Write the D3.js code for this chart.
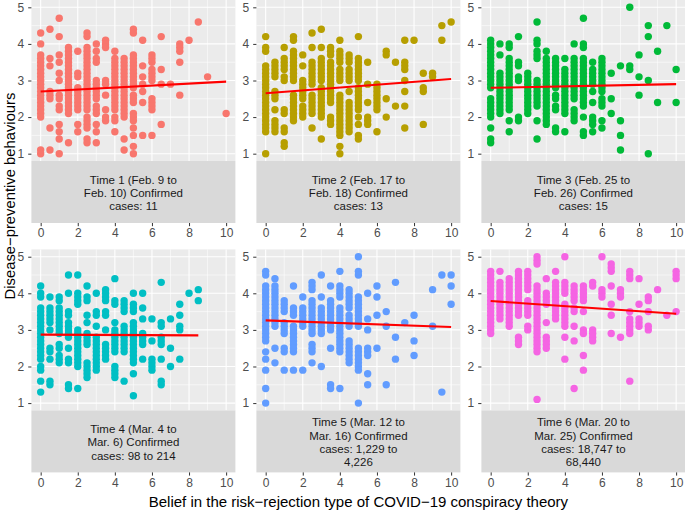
<!DOCTYPE html>
<html><head><meta charset="utf-8">
<script src="https://cdn.jsdelivr.net/npm/d3@7"></script>
<style>
html,body{margin:0;padding:0;background:#fff;}
svg{display:block;font-family:"Liberation Sans",Arial,Helvetica,sans-serif;}
</style></head>
<body><svg id="chart" width="685" height="510"></svg>
<script>
// ---------- data (x = belief score, y list = behaviour scores at that x) ----------
const time1 = [
 [0,[4.3,4.0,3.7,3.6,3.5,3.4,3.3,3.2,3.1,3.0,2.9,2.8,2.7,2.6,2.5,2.4,2.3,2.2,2.1,2.0,1.1,1.0]],
 [0.5,[4.4,3.6,3.4,2.7,2.6,2.5,1.7,1.1]],
 [1,[4.7,4.2,3.7,3.5,3.2,3.0,2.6,2.5,2.3,2.2,1.8,1.6,1.4,1.0]],
 [1.5,[3.9,3.8,3.7,3.6,3.5,3.4,3.3,3.2,3.1,3.0,2.9,2.8,2.7,2.6,2.5,2.4,2.3,2.2,2.1,1.3]],
 [2,[3.8,3.2,3.1,2.8,2.7,2.6,2.5,2.4,2.3,2.2,1.8,1.6]],
 [2.5,[4.3,4.2,3.9,3.8,3.7,3.6,3.5,3.4,3.3,3.2,3.1,3.0,2.9,2.8,2.7,2.6,2.5,2.4,2.3,2.2,2.0,1.9,1.8,1.7,1.4,1.3]],
 [3,[4.0,3.8,3.6,3.5,3.0,2.9,2.8,2.7,2.6,2.5,2.3,2.2,2.1,1.8,1.6,1.3]],
 [3.5,[4.1,4.0,3.9,3.0,2.9,2.6,2.2,2.0,1.9]],
 [4,[3.8,3.6,3.5,3.4,3.3,3.2,3.1,3.0,2.9,2.8,2.7,2.6,2.5,2.4,2.3,2.2,2.0,1.9,1.6]],
 [4.5,[3.6,3.5,3.4,3.3,3.2,3.1,3.0,2.9,2.8,2.7,2.6,2.5,2.4,2.3,2.2,2.1,2.0,1.4,1.1]],
 [5,[4.4,4.3,3.7,3.6,3.5,3.4,3.3,3.2,3.1,3.0,2.9,2.8,2.6,2.5,2.4,2.1,2.0,1.9,1.7,1.5,1.2,1.0]],
 [5.5,[4.1,3.4,3.1,2.9,2.7,2.4,1.5]],
 [6,[3.7,3.6,3.5,3.3,3.2,3.1,3.0,2.5,2.4,2.3,2.2,1.5]],
 [6.5,[4.2,3.3,2.9,1.8]],
 [7,[2.9]],
 [7.5,[4.0,3.9,3.8,3.5,2.6]],
 [8,[4.1]],
 [8.5,[4.6]],
 [9,[3.1]],
 [10,[2.1]]
];
const time2 = [
 [0,[4.2,3.9,3.8,3.4,3.3,3.2,3.1,3.0,2.9,2.8,2.7,2.6,2.5,2.4,2.3,2.2,2.1,2.0,1.9,1.8,1.7,1.6,1.0]],
 [0.5,[3.5,3.4,3.3,3.2,3.1,2.7,2.6,2.5,2.2,1.9,1.8,1.7,1.6]],
 [1,[3.9,3.6,3.5,3.4,3.3,3.1,3.0,2.2,2.1,1.7,1.6,1.3,1.2]],
 [1.5,[4.2,4.1,3.8,3.7,3.6,3.5,3.4,3.3,3.2,3.1,3.0,2.6,2.5,2.4,2.3,2.2,2.1,2.0,1.9]],
 [2,[3.7,3.4,3.0,2.9,2.8,2.7,2.6,2.5,2.3,2.2,2.1,2.0]],
 [2.5,[4.3,3.9,3.5,3.4,3.3,3.2,3.1,3.0,2.9,2.6,2.5,2.4,2.3,2.2,2.1,1.7]],
 [3,[4.4,3.9,3.6,3.5,3.4,3.3,3.2,3.1,3.0,2.8,2.7,2.6,2.5,2.4,2.3,2.2,2.1,2.0,1.4]],
 [3.5,[3.9,3.8,3.7,3.5,3.4,3.3,3.2,3.1,3.0,2.9,2.8,2.7,2.6,2.5,2.4,2.0,1.9,1.8]],
 [4,[4.1,3.8,3.7,3.6,3.5,3.3,3.2,3.1,3.0,2.6,2.5,2.4,2.3,2.2,2.1,2.0,1.9,1.8,1.7,1.6,1.5,1.2,1.0]],
 [4.5,[3.7,3.6,3.5,3.3,3.2,3.1,3.0,2.7,2.4,2.3,2.2,2.1,2.0,1.9,1.8,1.7,1.6]],
 [5,[4.2,3.6,3.5,3.4,3.3,3.2,3.1,3.0,2.8,2.7,2.6,2.5,2.4,2.3,2.2,2.0,1.8,1.5,1.4]],
 [5.5,[3.5,2.9,2.4,2.0,1.9,1.8]],
 [6,[2.9,2.8,2.7,2.6,2.5,2.4,2.3,2.2,1.6]],
 [6.5,[3.8,3.7,2.5,2.0]],
 [7,[3.5,2.3]],
 [7.5,[4.1,3.5,3.4,3.3,3.0,2.7,2.3,1.7]],
 [8,[4.1]],
 [8.5,[3.2,2.8,2.7,1.8]],
 [9,[3.2,3.1]],
 [9.5,[4.5,4.1]],
 [10,[4.6]]
];
const time3 = [
 [0,[4.1,4.0,3.9,3.8,3.7,3.6,3.5,3.4,3.3,3.2,3.1,3.0,2.9,2.8,2.5,2.4,2.3,2.2,2.1,2.0,1.7,1.4,1.3]],
 [0.5,[4.0,3.7,3.2,3.1,3.0,2.9,2.8,2.7,2.6,2.5,2.4,2.3,2.2,2.1]],
 [1,[4.0,3.9,3.6,3.5,3.4,3.3,3.2,3.1,3.0,2.9,2.8,2.7,2.6,2.5,2.4,2.3,2.2,1.9,1.6]],
 [1.5,[4.2,3.5,3.4,3.1,3.0,2.0,1.9]],
 [2,[3.2,3.1,3.0,2.9,2.8,2.7,2.6,2.5,2.4,2.3,2.2,2.1]],
 [2.5,[4.6,4.1,4.0,3.8,3.7,3.6,3.0,2.9,2.8,2.7,2.6,2.5,2.4,2.3,1.9,1.4]],
 [3,[3.8,3.6,3.5,3.4,3.3,3.2,3.1,3.0,2.9,2.8,2.7,2.6,2.5,2.4,2.3,2.2,2.1,2.0,1.9,1.8]],
 [3.5,[3.6,3.5,3.4,3.3,3.2,3.1,3.0,2.9,2.8,2.6,2.5,2.3,2.2,1.7,1.6]],
 [4,[3.6,3.3,3.2,3.1,3.0,2.9,2.8,2.7,2.6,2.5,2.4,2.3,2.2,2.1,1.6]],
 [4.5,[4.0,3.6,3.5,3.4,3.3,3.2,3.1,3.0,2.9,2.8,2.7,2.6,2.5,2.2,2.1,2.0,1.9]],
 [5,[4.7,4.0,3.9,3.6,3.5,3.4,3.3,3.2,3.1,3.0,2.9,2.8,2.7,2.6,2.5,2.4,2.3,2.0,1.6,1.5]],
 [5.5,[3.5,3.3,3.2,3.1,3.0,2.9,2.7,2.4,2.0,1.9,1.8,1.6]],
 [6,[3.6,3.5,3.4,3.3,3.2,3.1,3.0,2.9,2.8,2.7,2.5,2.4,2.3,1.9,1.7]],
 [6.5,[3.2,2.5,2.1]],
 [7,[3.4,1.9,1.5,1.1]],
 [7.5,[5.0,3.4,3.3]],
 [8,[3.7,3.1,2.6]],
 [8.5,[4.5,4.2,3.0,1.0]],
 [9,[3.8,2.4]],
 [9.5,[4.5]],
 [10,[3.3,2.4]]
];
const time4 = [
 [0,[4.2,4.0,3.9,3.6,3.5,3.4,3.3,3.2,3.1,3.0,2.9,2.8,2.7,2.6,2.5,2.4,2.3,2.2,2.0,1.9,1.6,1.3]],
 [0.5,[3.9,3.6,3.5,3.4,3.3,3.2,3.0,2.5,2.4,2.2,1.6,1.5]],
 [1,[3.9,3.8,3.6,3.5,3.4,3.3,3.2,3.1,3.0,2.9,2.6,2.5,2.3,2.2,2.1]],
 [1.5,[4.5,4.0,3.5,3.4,3.2,3.1,3.0,2.9,2.8,2.5,2.2,2.1,1.5,1.4]],
 [2,[4.5,4.0,3.9,3.8,3.7,3.0,2.9,2.8,2.7,2.6,2.5,2.4,2.3,2.2,2.1,2.0,1.4]],
 [2.5,[4.2,3.9,3.8,3.4,3.2,2.9,2.8,2.7,2.6,2.1,2.0,1.9,1.8,1.7]],
 [3,[4.0,3.5,3.4,3.1,2.8,2.7,2.6,2.5,2.4,2.3,2.2,2.1,2.0,1.9]],
 [3.5,[4.1,4.0,3.9,3.8,3.5,3.4,3.0,2.6,2.5,2.4,2.3,2.2]],
 [4,[4.4,3.8,3.7,3.2,3.0,2.9,2.8,2.7,2.6,2.5,2.4,2.0,1.9,1.8,1.7]],
 [4.5,[3.8,3.7,3.6,3.5,3.1,3.0,2.9,2.8,2.7,2.6,2.5,2.4,1.6]],
 [5,[4.0,3.7,3.6,3.5,3.2,3.1,3.0,2.9,2.8,2.7,2.6,2.5,2.4,2.3,2.2,2.1,1.8,1.2]],
 [5.5,[4.0,3.6,3.3,2.9,2.8,2.7,2.6,2.2]],
 [6,[3.3,2.7,2.2,2.1,2.0,1.9]],
 [6.5,[4.3,3.2,3.1,2.8,2.7,2.6,2.2,1.6,1.5]],
 [7,[3.3,2.5,2.0]],
 [7.5,[3.7,3.4,3.1,3.0,2.2]],
 [8,[4.0]],
 [8.5,[4.1,3.8]]
];
const time5 = [
 [0,[4.6,4.5,4.2,4.1,4.0,3.9,3.8,3.7,3.6,3.5,3.4,3.3,3.2,3.1,3.0,2.9,2.8,2.7,2.4,2.2,1.9,1.4,1.0]],
 [0.5,[4.4,4.2,4.1,4.0,3.9,3.8,3.7,3.6,3.5,3.4,3.3,3.2,3.1,2.5,2.1]],
 [1,[3.8,3.7,3.6,3.5,3.2,3.1,3.0,2.9,2.5,2.4,1.9]],
 [1.5,[4.2,3.6,3.5,3.4,3.1,3.0,2.9,2.8,2.7,2.6,2.5,2.4,1.9]],
 [2,[3.9,3.6,3.5,3.4,3.3,3.2,3.1,1.9]],
 [2.5,[4.3,4.2,4.1,3.8,3.7,3.6,3.5,3.4,3.3,3.2,3.1,3.0,2.9,2.6,2.5,2.4,2.1]],
 [3,[4.5,3.9,3.6,3.5,3.4,3.3,3.2,3.1,3.0,2.9,2.0]],
 [3.5,[4.2,3.8,3.7,3.6,3.5,3.4,3.3,3.2,3.1,3.0,2.5,1.5,1.4]],
 [4,[4.6,4.2,4.1,4.0,3.9,3.6,3.5,3.4,3.3,3.2,3.1,3.0,2.9,2.8,2.7,2.6,2.5,2.4,1.4]],
 [4.5,[4.1,4.0,3.9,3.8,3.7,3.6,3.4,3.3,3.2,3.1,2.7,2.6,2.5,2.4,2.3,2.2,2.1]],
 [5,[5.0,4.6,4.5,3.9,3.8,3.7,3.6,3.5,3.4,3.3,3.2,3.1,2.5,2.4,2.3,2.2,2.1,2.0,1.9,1.0]],
 [5.5,[4.0,3.3,3.0,2.5,2.4,2.3,1.8,1.5]],
 [6,[4.2,3.9,3.4,2.5]],
 [6.5,[3.5,3.1,1.5]],
 [7,[4.3,2.8,2.2]],
 [7.5,[3.2]],
 [8,[3.4,2.7,2.3]],
 [9,[4.1,3.1]],
 [9.5,[4.5,1.3]],
 [10,[4.5,4.2,3.7]]
];
const time6 = [
 [0,[4.6,4.5,4.4,4.3,4.2,4.1,4.0,3.9,3.8,3.7,3.6,3.5,3.4,3.3,3.2,3.1,3.0,2.9]],
 [0.5,[4.6,4.3,4.2,4.1,4.0,3.9,3.8,3.7,3.6,3.5,3.4,3.3]],
 [1,[4.4,4.3,4.2,4.1,4.0,3.9,3.8,3.7,3.6,3.5,3.4,3.3,3.2,3.1]],
 [1.5,[4.6,4.5,4.4,4.3,4.2,4.1,4.0,3.9,3.8,3.7,3.6,3.5,3.4,2.8,2.7,2.6]],
 [2,[4.6,4.5,4.4,4.3,4.2,4.1,3.8,3.7,3.6,3.5,3.4,3.1,3.0]],
 [2.5,[5.0,4.9,4.8,4.2,4.1,4.0,3.9,3.8,3.7,3.6,3.5,3.4,3.3,3.2,3.1,3.0,2.9,2.8,2.7,2.6,2.5,2.4,1.1]],
 [3,[4.4,4.0,3.9,3.8,3.7,3.2,2.8,2.7,2.6,2.5]],
 [3.5,[4.6,4.3,4.2,4.1,4.0,3.9,3.8,3.7,3.6,3.5,3.4,3.3]],
 [4,[5.0,4.3,4.2,4.1,4.0,3.7,3.6,3.5,3.4,3.3,3.2,3.1,2.8,2.2]],
 [4.5,[4.2,4.1,4.0,3.9,3.8,3.6,3.5,3.1,2.7,1.4]],
 [5,[4.2,4.1,4.0,3.9,3.8,3.5,3.0,2.9,2.3,1.9]],
 [5.5,[4.3,4.2,3.0,2.9,2.8,2.7]],
 [6,[5.0,4.1,4.0,3.9]],
 [6.5,[4.8,4.7,4.6,4.2,3.7,3.4,2.9]],
 [7,[4.1,4.0,3.9,2.8]],
 [7.5,[4.6,4.5,4.4,3.5,3.3,3.2,3.1,3.0,2.9,1.6]],
 [8,[4.4,3.7,3.3,3.2,3.1]],
 [8.5,[3.9,3.8,3.5,3.1,3.0]],
 [9,[4.1]],
 [9.5,[3.4]],
 [10,[4.6,4.5,4.4,3.5]]
];
const panelData = [time1, time2, time3, time4, time5, time6];
// fitted line values at the smallest and largest x of each panel
const fitStart = [2.70, 2.65, 2.80, 2.87, 3.26, 3.79];
const fitEnd   = [2.97, 3.04, 2.90, 2.85, 3.08, 3.44];
const stripLabels = [
 ["Time 1 (Feb. 9 to","Feb. 10) Confirmed","cases: 11"],
 ["Time 2 (Feb. 17 to","Feb. 18) Confirmed","cases: 13"],
 ["Time 3 (Feb. 25 to","Feb. 26) Confirmed","cases: 15"],
 ["Time 4 (Mar. 4 to","Mar. 6) Confirmed","cases: 98 to 214"],
 ["Time 5 (Mar. 12 to","Mar. 16) Confirmed","cases: 1,229 to","4,226"],
 ["Time 6 (Mar. 20 to","Mar. 25) Confirmed","cases: 18,747 to","68,440"]
];
const xTicks = [0,2,4,6,8,10];
const xMinor = [1,3,5,7,9];
const yTicks = [1,2,3,4,5];
const yMinor = [1.5,2.5,3.5,4.5];
const colors = ["#F8766D","#B79F00","#00BA38","#00BFC4","#619CFF","#F564E3"];
const xTitle = "Belief in the risk\u2212rejection type of COVID\u221219 conspiracy theory";
const yTitle = "Disease\u2212preventive behaviours";

// ---------- layout ----------
const panelW = 204, panelH = 161, stripH = 62;
const colX = [31.4, 256.4, 481.4];
const rowY = [0, 249.4];

const svg = d3.select("#chart");
const x = d3.scaleLinear().domain([-0.5, 10.5]).range([0, panelW]);
const y = d3.scaleLinear().domain([0.8, 5.2]).range([panelH, 0]);

panelData.forEach((cols, i) => {
  const px = colX[i % 3], py = rowY[Math.floor(i / 3)];
  const g = svg.append("g").attr("transform", `translate(${px},${py})`);
  g.append("rect").attr("width", panelW).attr("height", panelH).attr("fill", "#EBEBEB");
  // minor grid
  g.selectAll(".vmin").data(xMinor).join("line")
    .attr("x1", d => x(d)).attr("x2", d => x(d)).attr("y1", 0).attr("y2", panelH)
    .attr("stroke", "#fff").attr("stroke-width", 0.55);
  g.selectAll(".hmin").data(yMinor).join("line")
    .attr("y1", d => y(d)).attr("y2", d => y(d)).attr("x1", 0).attr("x2", panelW)
    .attr("stroke", "#fff").attr("stroke-width", 0.55);
  // major grid
  g.selectAll(".vmaj").data(xTicks).join("line")
    .attr("x1", d => x(d)).attr("x2", d => x(d)).attr("y1", 0).attr("y2", panelH)
    .attr("stroke", "#fff").attr("stroke-width", 1.1);
  g.selectAll(".hmaj").data(yTicks).join("line")
    .attr("y1", d => y(d)).attr("y2", d => y(d)).attr("x1", 0).attr("x2", panelW)
    .attr("stroke", "#fff").attr("stroke-width", 1.1);
  // points
  const pts = [];
  cols.forEach(([xv, ys]) => ys.forEach(yv => pts.push([xv, yv])));
  g.selectAll("circle").data(pts).join("circle")
    .attr("cx", d => x(d[0])).attr("cy", d => y(d[1])).attr("r", 3.7)
    .attr("fill", colors[i]);
  // fit line
  const xs = d3.extent(pts, d => d[0]);
  g.append("line")
    .attr("x1", x(xs[0])).attr("y1", y(fitStart[i]))
    .attr("x2", x(xs[1])).attr("y2", y(fitEnd[i]))
    .attr("stroke", "#FF0000").attr("stroke-width", 2.1);
  // y axis
  const ya = g.append("g").call(d3.axisLeft(y).tickValues(yTicks).tickSize(3.2).tickPadding(4).tickFormat(d3.format("d")));
  ya.select(".domain").remove();
  ya.selectAll("line").attr("stroke", "#333").attr("stroke-width", 1.0);
  ya.selectAll("text").attr("fill", "#4D4D4D").attr("font-size", "12px").attr("font-family", null);
  // strip
  const sg = g.append("g").attr("transform", `translate(0,${panelH})`);
  sg.append("rect").attr("width", panelW).attr("height", stripH).attr("fill", "#D9D9D9");
  const lines = stripLabels[i];
  const lh = 13.3;
  const cy = stripH / 2 + 0.8;
  sg.selectAll("text").data(lines).join("text")
    .attr("x", panelW / 2)
    .attr("y", (d, k) => cy + (k - (lines.length - 1) / 2) * lh)
    .attr("dy", "0.35em").attr("text-anchor", "middle")
    .attr("font-size", "11.5px").attr("fill", "#1A1A1A").text(d => d);
  // x axis
  const xa = g.append("g").attr("transform", `translate(0,${panelH + stripH})`)
    .call(d3.axisBottom(x).tickValues(xTicks).tickSize(3.2).tickPadding(2.5).tickFormat(d3.format("d")));
  xa.select(".domain").remove();
  xa.selectAll("line").attr("stroke", "#333").attr("stroke-width", 1.0);
  xa.selectAll("text").attr("fill", "#4D4D4D").attr("font-size", "12px").attr("font-family", null);
});

// axis titles
svg.append("text").attr("x", (colX[0] + colX[2] + panelW) / 2).attr("y", 502)
  .attr("dy", "0.35em").attr("text-anchor", "middle").attr("font-size", "15px")
  .attr("fill", "#000").text(xTitle);
svg.append("text").attr("transform", "translate(10,196) rotate(-90)")
  .attr("dy", "0.35em").attr("text-anchor", "middle").attr("font-size", "14.8px")
  .attr("fill", "#000").text(yTitle);
</script></body></html>
